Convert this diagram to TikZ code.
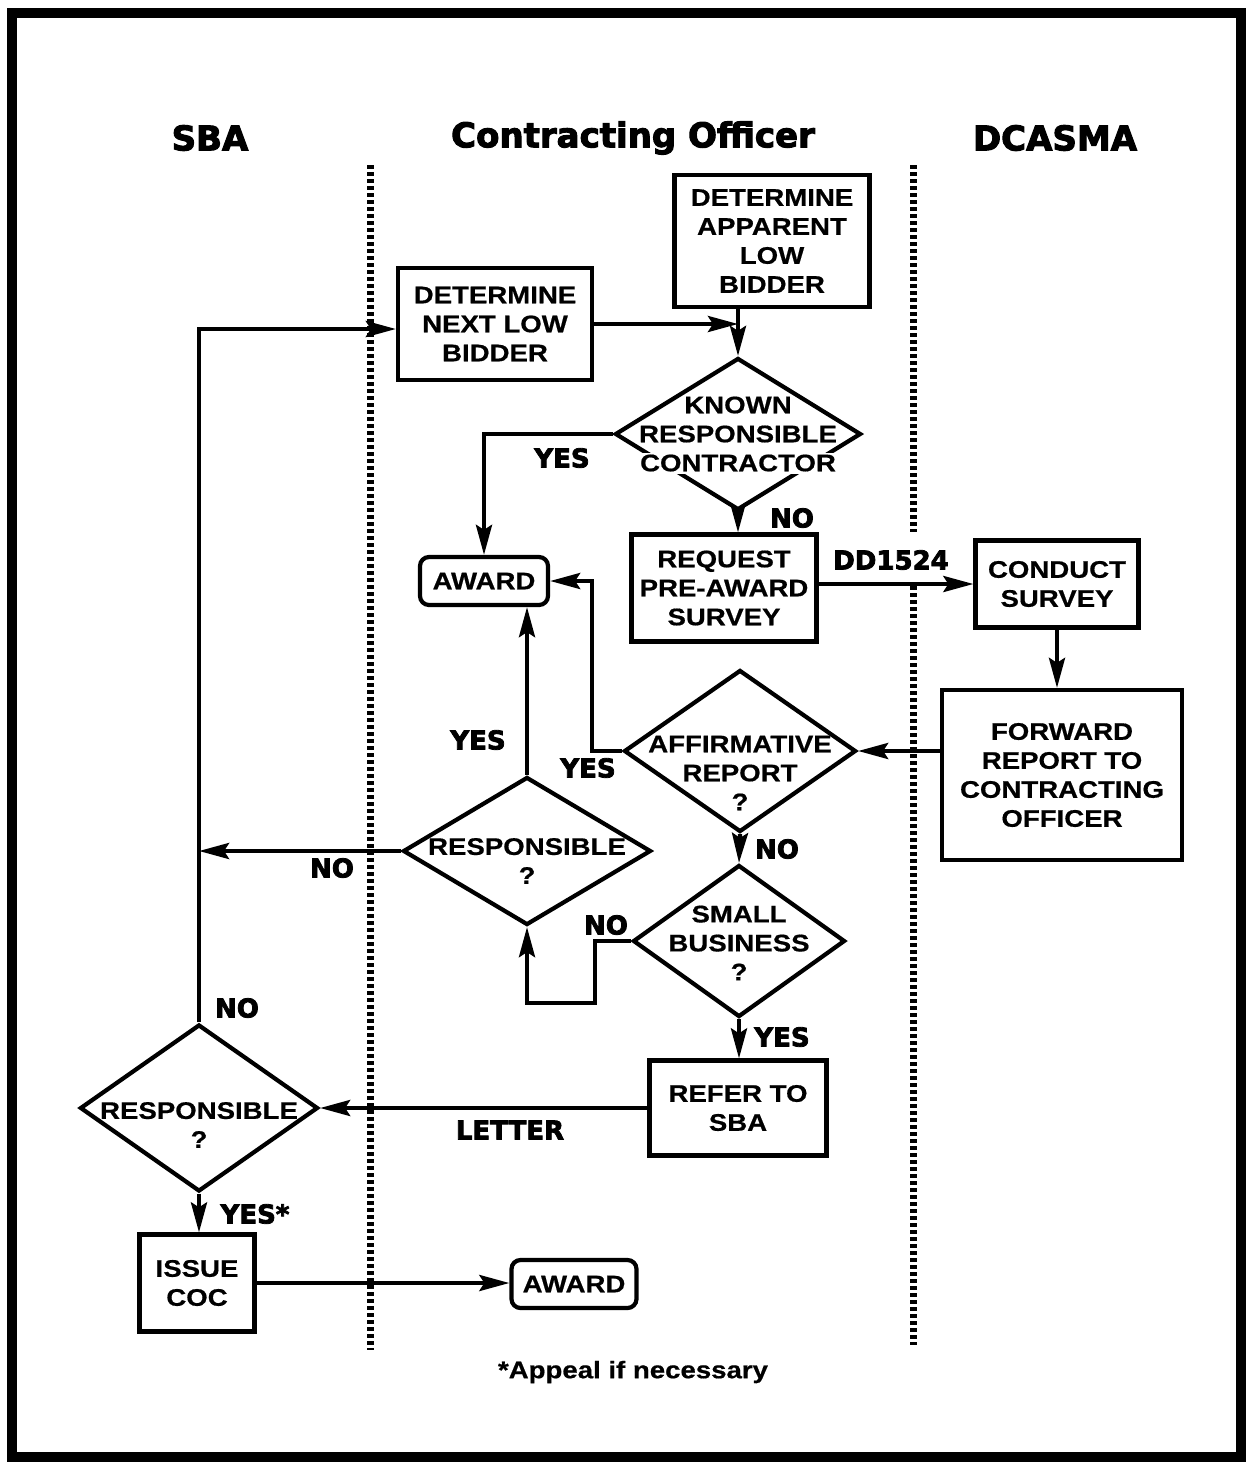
\documentclass[tikz,border=0pt]{standalone}
\usepackage{fontspec}
\usetikzlibrary{shapes.geometric,arrows.meta}
\newfontfamily\boxfont{Liberation Sans}[FakeStretch=1.15,FakeBold=0.6]
\newfontfamily\headfont{DejaVu Sans}[FakeBold=3]
\tikzset{
  >={Stealth[length=30pt,width=16pt,inset=5pt]},
  stepbox/.style={draw, line width=4.2pt, align=center, inner sep=0pt,
    font=\boxfont\bfseries\fontsize{24}{29}\selectfont},
  awardbox/.style={stepbox, rounded corners=9pt},
  dia/.style={diamond, draw, line width=4.2pt, inner sep=0pt},
  dtext/.style={align=center, inner sep=0pt,
    font=\boxfont\bfseries\fontsize{24}{29}\selectfont},
  lbl/.style={inner sep=0pt, font=\headfont\bfseries\fontsize{26}{30}\selectfont},
  head/.style={inner sep=0pt, font=\headfont\bfseries\fontsize{34}{40}\selectfont},
  conn/.style={line width=4.2pt},
  lane/.style={line width=7pt, dash pattern=on 4pt off 3pt},
}
\begin{document}
\begin{tikzpicture}[x=1pt,y=-1pt]
\useasboundingbox (0,0) rectangle (1247,1468);
\draw[line width=10pt] (12,13) rectangle (1241,1457);

% headers
\node[head] (hsba) at (210,138) {SBA};
\node[head] (hco) at (633,138) {Contracting Officer};
\node[head] (hdc) at (1055,138) {DCASMA};

% lane dividers
\draw[lane] (370,165) -- (370,1350);
\draw[lane] (913,165) -- (913,532);
\draw[lane] (913,586) -- (913,1345);

% boxes
\node[stepbox, minimum width=195, minimum height=132] (dal) at (772,241) {DETERMINE\\APPARENT\\LOW\\BIDDER};
\node[stepbox, minimum width=194, minimum height=112] (nlb) at (495,324) {DETERMINE\\NEXT LOW\\BIDDER};
\node[dia, minimum width=246, minimum height=152] (krc) at (738,434) {};
\node[dtext] (krct) at (738,419.5) {KNOWN\\RESPONSIBLE};
\node[dtext, fill=white, inner sep=2pt] (krct2) at (738,463) {CONTRACTOR};
\node[awardbox, minimum width=128, minimum height=48] (aw1) at (484,581) {AWARD};
\node[stepbox, minimum width=185, minimum height=107] (rpas) at (724,588) {REQUEST\\PRE-AWARD\\SURVEY};
\node[stepbox, minimum width=163, minimum height=87] (cs) at (1057,584) {CONDUCT\\SURVEY};
\node[stepbox, minimum width=240, minimum height=170] (fr) at (1062,775) {FORWARD\\REPORT TO\\CONTRACTING\\OFFICER};
\node[dia, minimum width=232, minimum height=162] (aff) at (740,751) {};
\node[dtext] (afft) at (740,773) {AFFIRMATIVE\\REPORT\\?};
\node[dia, minimum width=248, minimum height=148] (resp) at (527,851) {};
\node[dtext] (respt) at (527,861) {RESPONSIBLE\\?};
\node[dia, minimum width=212, minimum height=152] (sb) at (739,941) {};
\node[dtext] (sbt) at (739,943) {SMALL\\BUSINESS\\?};
\node[stepbox, minimum width=177, minimum height=95] (ref) at (738,1108) {REFER TO\\SBA};
\node[dia, minimum width=238, minimum height=167] (sresp) at (199,1108) {};
\node[dtext] (srespt) at (199,1125) {RESPONSIBLE\\?};
\node[stepbox, minimum width=115, minimum height=97] (coc) at (197,1283) {ISSUE\\COC};
\node[awardbox, minimum width=125, minimum height=48] (aw2) at (574,1284) {AWARD};

% connectors
\draw[conn,->] (dal.south -| krc.north) -- (krc.north);
\draw[conn,->] (nlb.east) -- (nlb.east -| krc.north);
\draw[conn,->] (krc.west) -| (aw1.north);
\draw[conn,->] (krc.south) -- (krc.south |- rpas.north);
\draw[conn,->] (cs.west -| rpas.east) -- (cs.west);
\draw[conn,->] (cs.south) -- (cs.south |- fr.north);
\draw[conn,->] (fr.west |- aff.east) -- (aff.east);
\draw[conn,->] (aff.west) -- ++(-30,0) |- (aw1.east);
\draw[conn,->] (aff.south) -- (sb.north);
\draw[conn,->] (sb.west) -- ++(-36,0) -- ++(0,62) -| (resp.south);
\draw[conn,->] (resp.north) -- (resp.north |- aw1.south);
\draw[conn,->] (resp.west) -- (resp.west -| sresp.north);
\draw[conn,->] (sb.south) -- (sb.south |- ref.north);
\draw[conn,->] (ref.west) -- (sresp.east);
\draw[conn,->] (sresp.north) |- ([yshift=-5pt]nlb.west);
\draw[conn,->] (sresp.south) -- (sresp.south |- coc.north);
\draw[conn,->] (coc.east) -- (coc.east -| aw2.west);

% labels
\node[lbl] (l1) at (562,458) {YES};
\node[lbl] (l2) at (792,518) {NO};
\node[lbl] (l3) at (891,560) {DD1524};
\node[lbl] (l4) at (478,740) {YES};
\node[lbl] (l5) at (588,768) {YES};
\node[lbl] (l6) at (332,868) {NO};
\node[lbl] (l7) at (777,849) {NO};
\node[lbl] (l8) at (606,925) {NO};
\node[lbl] (l9) at (782,1037) {YES};
\node[lbl] (l10) at (510,1130) {LETTER};
\node[lbl] (l11) at (237,1008) {NO};
\node[lbl] (l12) at (255,1214) {YES*};

\node[dtext] (foot) at (633,1372) {*Appeal if necessary};
\end{tikzpicture}
\end{document}
